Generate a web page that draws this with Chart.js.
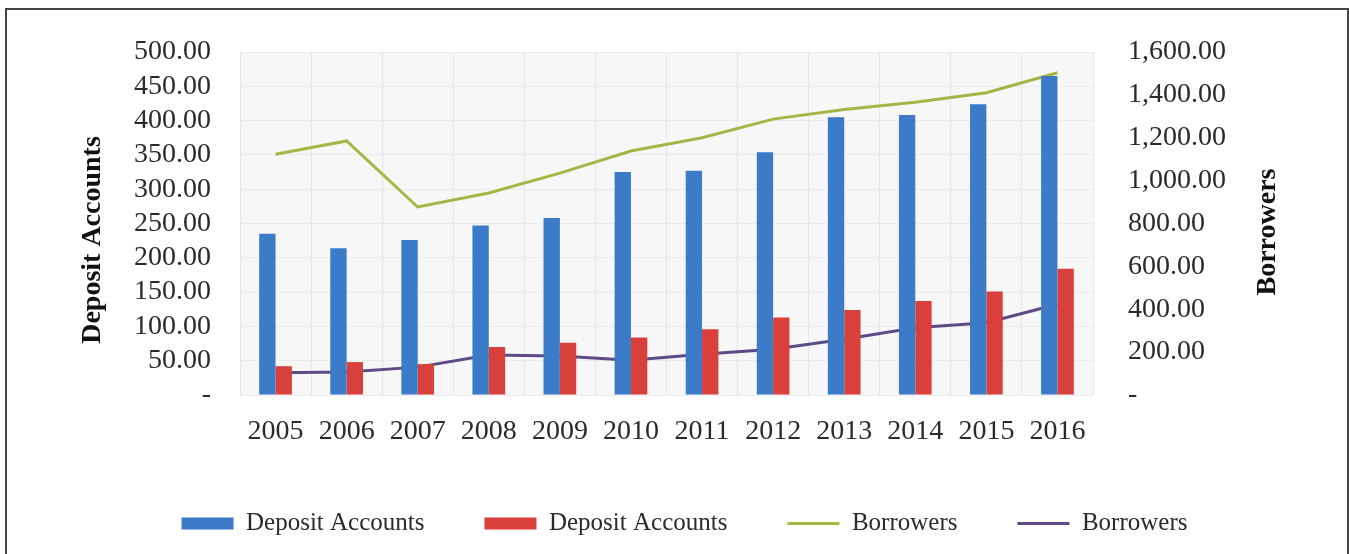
<!DOCTYPE html>
<html>
<head>
<meta charset="utf-8">
<script src="https://cdn.jsdelivr.net/npm/chart.js@4.4.1/dist/chart.umd.min.js"></script>
<style>
  html, body { margin: 0; padding: 0; background: #fff; }
  #wrap { position: relative; width: 1349px; height: 554px; }
  #frame { position: absolute; left: 5px; top: 8px; width: 1340px; height: 560px; border: 2px solid #444; pointer-events: none; }
</style>
</head>
<body>
<div id="wrap">
  <canvas id="chart"></canvas>
  <div id="frame"></div>
</div>
<script>
// --- DATA ---
const years = ['2005','2006','2007','2008','2009','2010','2011','2012','2013','2014','2015','2016'];
const depositBlue = [235, 214, 226, 247, 258, 325, 327, 354, 405, 408, 424, 465];
const depositRed  = [42, 48, 45, 70, 76, 84, 96, 113, 124, 137, 151, 184];
const borrowersGreen  = [1123, 1185, 877, 942, 1035, 1138, 1200, 1287, 1332, 1366, 1410, 1503];
const borrowersPurple = [104, 107, 130, 187, 182, 162, 190, 213, 260, 314, 337, 423];
const leftAxis  = { min: 0, max: 500, step: 50 };
const rightAxis = { min: 0, max: 1600, step: 200 };

const SERIF = '"Liberation Serif", "Times New Roman", serif';
const TEXT = '#2b2b2b';

function fmt(v) {
    if (v === 0) return '-';
    return v.toLocaleString('en-US', { minimumFractionDigits: 2, maximumFractionDigits: 2 });
}

// light gray plot background + rotated axis titles (both read bottom-to-top)
const decor = {
    id: 'decor',
    beforeDraw(chart) {
        const { ctx, chartArea: a } = chart;
        ctx.save();
        ctx.fillStyle = '#f7f7f7';
        ctx.fillRect(a.left, a.top, a.right - a.left, a.bottom - a.top);
        ctx.restore();
    },
    afterDraw(chart) {
        const ctx = chart.ctx;
        ctx.save();
        ctx.fillStyle = '#111';
        ctx.font = 'bold 28px ' + SERIF;
        ctx.textAlign = 'center';
        ctx.textBaseline = 'middle';
        [['Deposit Accounts', 93, 240], ['Borrowers', 1268, 232]].forEach(([t, x, y]) => {
            ctx.save();
            ctx.translate(x, y);
            ctx.rotate(-Math.PI / 2);
            ctx.fillText(t, 0, 0);
            ctx.restore();
        });
        ctx.restore();
    }
};

function initChart() {
    new Chart(document.getElementById('chart'), {
        type: 'bar',
        data: {
            labels: years,
            datasets: [
                { type: 'bar', label: 'Deposit Accounts', data: depositBlue, backgroundColor: '#3b7bc8', yAxisID: 'y', order: 1 },
                { type: 'bar', label: 'Deposit Accounts', data: depositRed, backgroundColor: '#d9403b', yAxisID: 'y', order: 1 },
                { type: 'line', label: 'Borrowers', data: borrowersGreen, borderColor: '#a6b646', backgroundColor: '#a6b646', borderWidth: 3, pointRadius: 0, tension: 0, yAxisID: 'y1', order: 2 },
                { type: 'line', label: 'Borrowers', data: borrowersPurple, borderColor: '#5e4a86', backgroundColor: '#5e4a86', borderWidth: 3, pointRadius: 0, tension: 0, yAxisID: 'y1', order: 2 }
            ]
        },
        options: {
            responsive: true,
            maintainAspectRatio: false,
            animation: false,
            categoryPercentage: 0.46,
            barPercentage: 1.0,
            layout: { padding: { left: 20, right: 0, top: 52, bottom: 8 } },
            plugins: {
                tooltip: { enabled: false },
                legend: {
                    position: 'bottom',
                    labels: {
                        color: TEXT,
                        font: { family: SERIF, size: 25 },
                        usePointStyle: true,
                        pointStyleWidth: 52,
                        boxHeight: 12,
                        padding: 60,
                        generateLabels(chart) {
                            const items = Chart.defaults.plugins.legend.labels.generateLabels(chart);
                            items.forEach(it => {
                                const ds = chart.data.datasets[it.datasetIndex];
                                const isLine = ds.type === 'line';
                                it.pointStyle = isLine ? 'line' : 'rect';
                                it.lineWidth = isLine ? 3 : 0;
                                it.strokeStyle = isLine ? ds.borderColor : ds.backgroundColor;
                                it.fillStyle = isLine ? ds.borderColor : ds.backgroundColor;
                            });
                            return items;
                        }
                    }
                }
            },
            scales: {
                x: {
                    offset: true,
                    grid: { display: true, offset: true, color: '#e6e6e6', drawTicks: false },
                    border: { display: false },
                    ticks: { color: TEXT, font: { family: SERIF, size: 28 }, padding: 20, maxRotation: 0, autoSkip: false },
                    afterFit(s) { s.height = 56; }
                },
                y: {
                    position: 'left',
                    min: leftAxis.min, max: leftAxis.max,
                    grid: { color: '#ebebeb', drawTicks: false },
                    border: { display: false },
                    ticks: { stepSize: leftAxis.step, color: TEXT, font: { family: SERIF, size: 28 }, padding: 29, callback: v => fmt(v), autoSkip: false },
                    afterFit(s) { s.width = 220; }
                },
                y1: {
                    position: 'right',
                    min: rightAxis.min, max: rightAxis.max,
                    grid: { display: false, drawTicks: false },
                    border: { display: false },
                    ticks: { stepSize: rightAxis.step, color: TEXT, font: { family: SERIF, size: 28 }, padding: 35, callback: v => fmt(v), autoSkip: false },
                    afterFit(s) { s.width = 256; }
                }
            }
        },
        plugins: [decor]
    });
}

window.onload = initChart;
</script>
</body>
</html>
